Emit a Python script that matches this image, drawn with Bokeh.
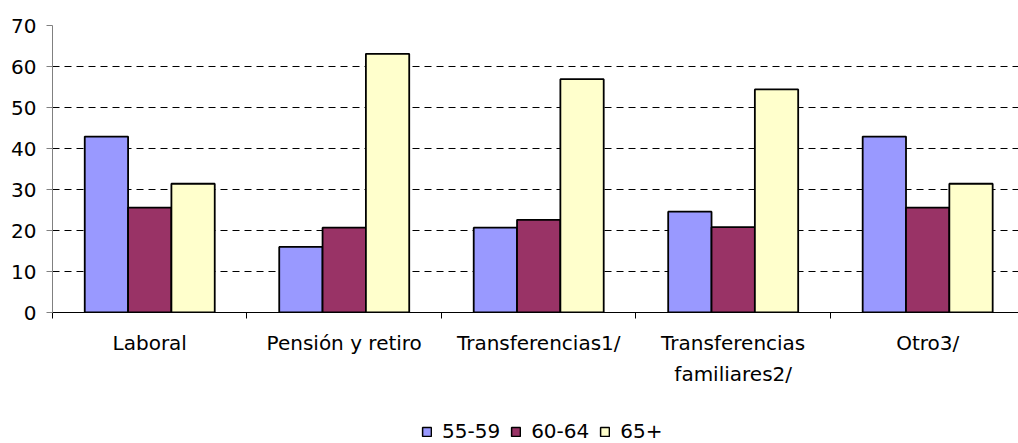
from bokeh.plotting import figure
from bokeh.layouts import column
from bokeh.models import ColumnDataSource, Range1d, FixedTicker, Legend, LegendItem
from bokeh.transform import dodge
from bokeh.embed import file_html
from bokeh.resources import INLINE

# ---- data ----
categories = ["Laboral", "Pensión y retiro", "Transferencias1/",
              "Transferencias\nfamiliares2/", "Otro3/"]
series_names = ["55-59", "60-64", "65+"]
v_55_59 = [42.9, 16.0, 20.7, 24.6, 42.9]
v_60_64 = [25.6, 20.7, 22.6, 20.8, 25.6]
v_65_plus = [31.4, 63.1, 56.9, 54.4, 31.4]
y_ticks = [0, 10, 20, 30, 40, 50, 60, 70]
colors = ["#9999FF", "#993366", "#FFFFCC"]

FONT = "DejaVu Sans"
FS = "20px"

pos = list(range(1, len(categories) + 1))
src = ColumnDataSource(dict(x=pos, a=v_55_59, b=v_60_64, c=v_65_plus))

p = figure(width=1018, height=420, output_backend="svg", toolbar_location=None,
           x_range=Range1d(0.5, 0.5 + 4.967), y_range=Range1d(0, 70),
           min_border_left=52, min_border_right=0, min_border_top=25,
           min_border_bottom=108)
p.outline_line_color = None

bw = 0.2228
for col, off, color in zip(["a", "b", "c"], [-bw, 0.0, bw], colors):
    p.vbar(x=dodge("x", off, range=p.x_range), top=col, width=bw, bottom=0,
           source=src, fill_color=color, line_color="black", line_width=1.8)

# x axis
xa = p.xaxis[0]
xa.ticker = FixedTicker(ticks=pos, minor_ticks=[i + 0.5 for i in range(len(categories) + 1)])
xa.major_label_overrides = {k: c for k, c in zip(pos, categories)}
xa.major_tick_out = 0
xa.major_tick_in = 0
xa.minor_tick_out = 6
xa.minor_tick_in = 0
xa.minor_tick_line_color = "black"
xa.axis_line_color = "black"
xa.axis_line_width = 1
xa.major_label_standoff = 12
xa.major_label_text_font = FONT
xa.major_label_text_font_size = FS
xa.major_label_text_color = "black"
xa.major_label_text_line_height = 1.3

# y axis
ya = p.yaxis[0]
ya.ticker = FixedTicker(ticks=y_ticks)
ya.axis_line_color = "#808080"
ya.major_tick_line_color = "#808080"
ya.major_tick_out = 6
ya.major_tick_in = 0
ya.minor_tick_line_color = None
ya.major_label_standoff = 10
ya.major_label_text_font = FONT
ya.major_label_text_font_size = FS
ya.major_label_text_color = "black"

# grid
p.xgrid.visible = False
p.ygrid.ticker = FixedTicker(ticks=y_ticks[1:])
p.ygrid.grid_line_color = "black"
p.ygrid.grid_line_dash = "7 5"
p.ygrid.grid_line_width = 1

# legend strip (separate small figure below the chart; its frame aligns with the chart's)
pl = figure(width=1018, height=23, output_backend="svg", toolbar_location=None,
            x_axis_type=None, y_axis_type=None,
            x_range=Range1d(0.5, 0.5 + 4.967), y_range=Range1d(0, 70),
            min_border_left=52, min_border_right=0,
            min_border_top=0, min_border_bottom=0)
pl.outline_line_color = None
pl.xgrid.visible = False
pl.ygrid.visible = False
items = []
for name, col, color in zip(series_names, ["a", "b", "c"], colors):
    # degenerate (zero-size) bars shifted off the strip: only the legend swatch is seen
    r = pl.vbar(x=dodge("x", 100, range=pl.x_range), top=col, bottom=col, width=0,
                source=src, fill_color=color, line_color="black", line_width=1.5)
    items.append(LegendItem(label=name, renderers=[r]))
lg = Legend(items=items)
lg.location = (369, 0)
lg.orientation = "horizontal"
lg.glyph_width = 11
lg.glyph_height = 11
lg.label_standoff = 10
lg.spacing = 10
lg.padding = 0
lg.margin = 0
lg.border_line_color = None
lg.background_fill_alpha = 0
lg.label_text_font = FONT
lg.label_text_font_size = FS
lg.label_text_color = "black"
pl.add_layout(lg, "center")

layout = column(p, pl, spacing=0)
open("out.html", "w").write(file_html(layout, INLINE))
